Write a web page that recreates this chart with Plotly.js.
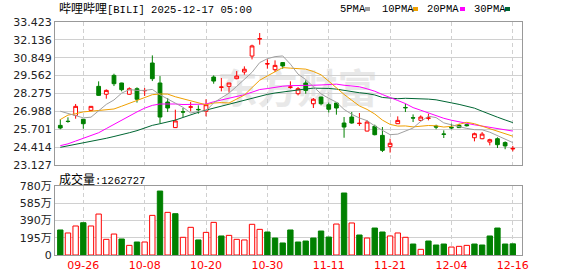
<!DOCTYPE html>
<html><head><meta charset="utf-8">
<script src="https://cdn.plot.ly/plotly-3.0.1.min.js"></script>
<style>html,body{margin:0;padding:0;background:#fff;}#chart{width:578px;height:276px;}</style>
</head><body><div id="chart"></div>
<script>
const dates = ['09-23','09-24','09-25','09-26','09-29','09-30','10-01','10-02','10-03','10-06',
'10-07','10-08','10-09','10-10','10-13','10-14','10-15','10-16','10-17','10-20',
'10-21','10-22','10-23','10-24','10-27','10-28','10-29','10-30','10-31','11-03',
'11-04','11-05','11-06','11-07','11-10','11-11','11-12','11-13','11-14','11-17',
'11-18','11-19','11-20','11-21','11-24','11-25','11-26','11-28','12-01','12-02',
'12-03','12-04','12-05','12-08','12-09','12-10','12-11','12-12','12-15','12-16'];
const openP = [25.98,26.28,26.70,26.42,27.06,28.79,28.22,29.58,29.03,28.22,
28.62,28.47,30.47,29.03,27.66,25.82,26.96,27.29,27.13,26.99,
29.46,28.72,28.79,29.34,29.82,30.97,32.20,30.40,29.99,30.50,
28.72,28.26,29.03,27.54,28.02,27.47,27.59,26.15,26.58,26.11,
25.57,25.91,25.26,24.45,26.10,27.27,26.53,26.34,26.49,25.93,
25.36,25.84,25.98,26.03,25.09,25.02,24.78,25.02,24.74,24.28];
const highP = [26.42,26.56,27.52,26.45,27.37,29.15,28.57,29.70,29.05,28.72,
28.72,28.67,31.02,29.53,27.95,27.11,27.23,27.66,27.42,27.86,
29.58,29.39,29.03,29.89,30.23,31.79,32.63,30.73,30.66,30.54,
29.15,28.74,29.22,27.95,28.04,27.62,27.61,26.58,26.94,26.87,
26.34,26.03,25.86,25.02,26.63,27.54,26.77,26.70,26.82,26.03,
25.62,26.10,26.10,26.10,25.46,25.50,25.02,25.12,24.83,24.50];
const lowP = [25.70,26.17,26.46,25.74,27.04,28.10,27.90,28.81,28.43,28.19,
27.62,28.10,29.17,26.15,26.94,25.80,26.58,26.99,26.82,26.63,
28.98,28.43,28.34,29.30,29.63,30.73,31.79,30.06,29.82,30.06,
28.62,28.14,28.26,27.23,27.42,26.90,26.75,25.09,26.10,25.94,
25.55,25.26,24.06,24.02,26.08,26.94,26.22,26.30,26.34,25.70,
25.07,25.70,25.80,25.90,24.83,24.98,24.54,24.35,24.26,24.11];
const closeP = [25.79,26.26,27.35,26.10,27.35,28.14,28.50,28.98,28.55,28.62,
27.86,28.49,29.34,26.58,27.23,26.30,26.94,27.31,27.11,27.47,
29.17,28.74,29.03,29.53,30.02,31.70,32.22,30.42,30.30,30.26,
28.74,28.62,28.50,27.86,27.54,27.14,27.23,25.86,26.15,26.13,
26.22,25.31,24.18,24.69,26.34,27.25,26.51,26.58,26.51,25.86,
25.34,25.80,25.82,25.96,25.38,25.35,24.95,24.59,24.50,24.32];
// volume in 万 shares
const volume = [283,249,328,365,328,463,177,237,181,109,
147,147,448,723,482,467,200,313,170,256,
369,215,222,177,170,347,290,260,192,136,
283,147,158,192,271,203,350,701,362,226,
192,305,260,215,249,200,124,64,158,113,
124,90,98,109,124,113,215,305,124,126.27];
const ma5 = [27.00,26.85,26.70,26.52,26.57,27.04,27.49,27.81,28.30,28.56,
28.50,28.50,28.57,28.18,27.90,27.59,27.28,26.87,26.98,27.02,
27.60,27.96,28.30,28.79,29.30,29.80,30.50,30.78,30.93,30.98,
30.39,29.67,29.28,28.80,28.25,27.93,27.65,27.13,26.78,26.51,
26.32,25.94,25.60,25.31,25.35,25.55,25.79,26.27,26.64,26.54,
26.16,26.02,25.87,25.76,25.67,25.66,25.49,25.25,24.96,24.74];
const ma10 = [26.40,26.72,26.82,26.95,27.00,27.04,27.08,27.16,27.36,27.56,
27.77,27.99,28.19,28.24,28.23,28.04,27.89,27.72,27.58,27.46,
27.59,27.62,27.59,27.88,28.16,28.70,29.23,29.54,29.86,30.14,
30.10,30.08,30.03,29.86,29.62,29.16,28.66,28.21,27.79,27.38,
27.13,26.80,26.36,26.05,25.93,25.94,25.87,25.94,25.97,25.95,
25.86,25.91,26.08,26.20,26.10,25.91,25.76,25.56,25.36,25.20];
const ma20 = [24.52,24.65,24.85,25.05,25.25,25.45,25.75,26.05,26.40,26.70,
26.95,27.22,27.42,27.52,27.54,27.52,27.48,27.48,27.50,27.51,
27.68,27.81,27.89,28.06,28.19,28.37,28.56,28.63,28.72,28.80,
28.84,28.85,28.81,28.87,28.89,28.93,28.95,28.87,28.83,28.76,
28.61,28.44,28.20,27.96,27.77,27.55,27.26,27.07,26.88,26.66,
26.49,26.35,26.22,26.13,26.02,25.93,25.81,25.75,25.67,25.57];
const ma30 = [24.40,24.50,24.60,24.70,24.80,24.92,25.05,25.18,25.30,25.45,
25.60,25.80,25.98,26.10,26.22,26.36,26.55,26.75,26.92,27.08,
27.22,27.38,27.53,27.68,27.83,27.97,28.10,28.21,28.31,28.39,
28.49,28.57,28.60,28.66,28.67,28.64,28.59,28.49,28.41,28.33,
28.27,28.17,27.99,27.93,27.90,27.93,27.92,27.89,27.87,27.82,
27.69,27.60,27.49,27.37,27.22,27.00,26.76,26.57,26.37,26.18];
const priceTicks = [23.127,24.414,25.701,26.988,28.275,29.562,30.849,32.136,33.423];
const volTicks = [0,195,390,585,780];
const volTickText = ['0','195万','390万','585万','780万'];
const dateTicks = ['09-26','10-08','10-20','10-30','11-11','11-21','12-04','12-16'];
const maNames = ['5PMA','10PMA','20PMA','30PMA'];
const titleCN = '哔哩哔哩';
const titleEN = '[BILI] 2025-12-17 05:00';
const volLabel = '成交量:1262727';
const watermark = '东方财富';

// ---- drawing ----
const RED = '#ff0000', GREEN = '#008000';
const maColors = ['#a0a0a0','#f0a000','#ff00ff','#006633'];
const L = 55, R = 522, T = 22, B = 255, W = 578, H = 276;
const pxX = x => (x - L) / (R - L);
const pxY = y => (B - y) / (B - T);
const xr = [-0.69, 60.2];

const volUp = closeP.map((c, i) => i === 0 ? c >= openP[0] : c >= closeP[i - 1]);

const traces = [];
[ma30, ma20, ma10, ma5].forEach((m, k) => {
  const idx = 3 - k;
  traces.push({type:'scatter', mode:'lines', x:dates, y:m, xaxis:'x', yaxis:'y',
    line:{color:maColors[idx], width:1}, hoverinfo:'skip', showlegend:false});
});
traces.push({
  type:'candlestick', x:dates, open:openP, high:highP, low:lowP, close:closeP,
  xaxis:'x', yaxis:'y', hoverinfo:'skip', showlegend:false, whiskerwidth:0,
  increasing:{line:{color:RED, width:1}, fillcolor:'#ffffff'},
  decreasing:{line:{color:GREEN, width:1}, fillcolor:GREEN}
});
traces.push({
  type:'bar', x:dates, y:volume, xaxis:'x2', yaxis:'y2', hoverinfo:'skip', showlegend:false,
  marker:{color:volUp.map(u => u ? '#ffffff' : GREEN),
          line:{color:volUp.map(u => u ? RED : GREEN), width:1}}
});

const tickFont = {family:'DejaVu Sans, Noto Sans CJK SC', size:11, color:'#222'};
const gridC = '#d0d0d0', frameC = '#999999';
const ann = [];
ann.push({xref:'paper', yref:'paper', x:pxX(57), y:pxY(8), xanchor:'left', yanchor:'middle',
  showarrow:false, text:titleCN + '<span style="font-family:Liberation Mono;font-size:10.5px">' + titleEN + '</span>',
  font:{family:'Noto Sans CJK SC', size:12, color:'#000'}});
ann.push({xref:'paper', yref:'paper', x:pxX(57), y:pxY(178), xanchor:'left', yanchor:'middle',
  showarrow:false, text:volLabel.slice(0,3) + '<span style="font-family:Liberation Mono;font-size:10.5px">' + volLabel.slice(3) + '</span>',
  font:{family:'Noto Sans CJK SC', size:12, color:'#000'}});
const legX = [338, 380, 425, 472];
const markX = [365, 413, 460, 505];
const shapes = [];
maNames.forEach((n, k) => {
  ann.push({xref:'paper', yref:'paper', x:pxX(legX[k]), y:pxY(9), xanchor:'left', yanchor:'middle',
    showarrow:false, text:n, font:{family:'Liberation Mono', size:10.5, color:'#000'}});
  shapes.push({type:'rect', xref:'paper', yref:'paper', x0:pxX(markX[k]), x1:pxX(markX[k]+5),
    y0:pxY(11), y1:pxY(7), fillcolor:maColors[k], line:{width:0}});
});
shapes.push({type:'rect', xref:'paper', yref:'paper', layer:'below',
  x0:pxX(205), x1:pxX(390), y0:pxY(112), y1:pxY(72), fillcolor:'rgba(0,0,0,0)', line:{width:0},
  label:{text:watermark, textposition:'middle center',
    font:{family:'Noto Sans CJK SC', size:40, color:'#e8e8e8', weight:'bold'}}});

const layout = {
  width:W, height:H, margin:{l:L, r:W - R, t:T, b:H - B, pad:0},
  paper_bgcolor:'#fff', plot_bgcolor:'#fff', showlegend:false,
  xaxis:{domain:[0,1], anchor:'y', type:'category', range:xr, tickvals:dateTicks, showticklabels:false,
    ticks:'', showgrid:true, gridcolor:gridC, griddash:'4px,3px', gridwidth:1,
    showline:true, linecolor:frameC, linewidth:1, mirror:true, zeroline:false,
    rangeslider:{visible:false}, fixedrange:true},
  yaxis:{domain:[pxY(165), 1], anchor:'x', range:[23.1269, 33.4231], tickvals:priceTicks,
    ticktext:priceTicks.map(v => v.toFixed(3)), tickfont:tickFont, ticks:'',
    showgrid:true, gridcolor:gridC, gridwidth:1, showline:true, linecolor:frameC, mirror:true,
    zeroline:false, fixedrange:true},
  xaxis2:{domain:[0,1], anchor:'y2', type:'category', range:xr, tickvals:dateTicks, ticktext:dateTicks,
    tickfont:{family:'DejaVu Sans', size:11, color:RED}, ticks:'', tickangle:0,
    showgrid:true, gridcolor:gridC, griddash:'4px,3px', gridwidth:1,
    showline:true, linecolor:frameC, mirror:true, zeroline:false, fixedrange:true},
  yaxis2:{domain:[0, pxY(186)], anchor:'x2', range:[0, 780.1], tickvals:volTicks, ticktext:volTickText,
    tickfont:tickFont, ticks:'', showgrid:true, gridcolor:gridC, showline:true, linecolor:frameC,
    mirror:true, zeroline:false, fixedrange:true},
  bargap:0.3, boxgap:0.3,
  annotations:ann, shapes:shapes
};
Plotly.newPlot('chart', traces, layout, {staticPlot:true, displayModeBar:false});
</script></body></html>
